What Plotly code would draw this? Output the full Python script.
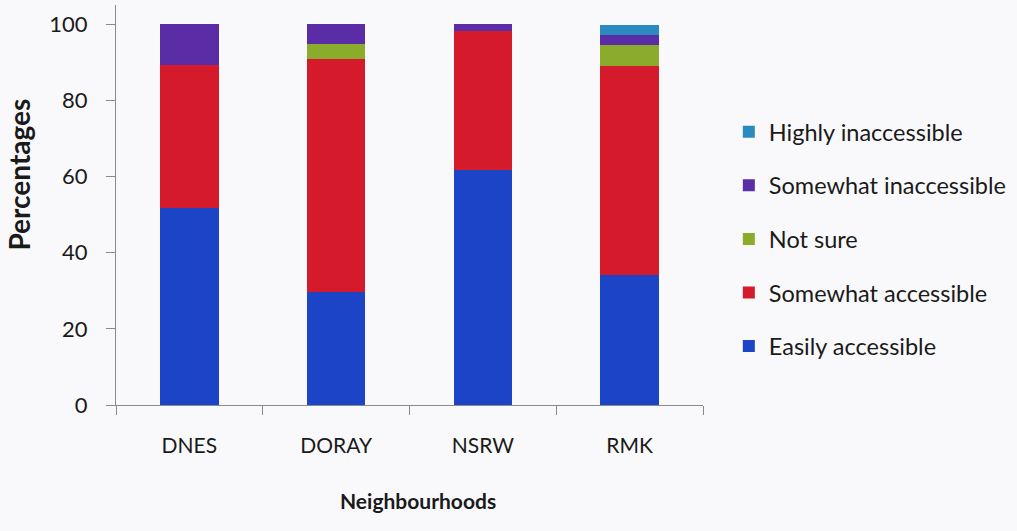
import plotly.graph_objects as go

# Neighbourhoods surveyed
neighbourhoods = ["DNES", "DORAY", "NSRW", "RMK"]

# Share of respondents (%) per accessibility rating
easily_accessible = [51.6, 29.6, 61.7, 34.1]
somewhat_accessible = [37.6, 61.2, 36.5, 54.9]
not_sure = [0.0, 3.9, 0.0, 5.4]
somewhat_inaccessible = [10.8, 5.3, 1.8, 2.7]
highly_inaccessible = [0.0, 0.0, 0.0, 2.6]

y_ticks = [0, 20, 40, 60, 80, 100]

series = [
    ("Easily accessible", easily_accessible, "#1b45c6"),
    ("Somewhat accessible", somewhat_accessible, "#d41a2b"),
    ("Not sure", not_sure, "#8aab2c"),
    ("Somewhat inaccessible", somewhat_inaccessible, "#5a2da6"),
    ("Highly inaccessible", highly_inaccessible, "#2b8ac0"),
]

FONT = "Lato"
AXIS_GREY = "#8a8a8a"
TEXT = "#1a1a1a"

fig = go.Figure()
for i, (name, values, colour) in enumerate(series):
    fig.add_trace(go.Bar(
        x=neighbourhoods,
        y=values,
        name=name,
        legendgroup=f"g{i}",
        # top segment of the stack is listed first in the legend
        legendrank=100 * (len(series) - i),
        marker=dict(color=colour, line=dict(width=0)),
    ))

fig.update_layout(
    width=1017,
    height=531,
    barmode="stack",
    bargap=0.6,
    paper_bgcolor="#f9f9fb",
    plot_bgcolor="#f9f9fb",
    margin=dict(l=116, r=312, t=5, b=126),
    font=dict(family=FONT, size=21, color=TEXT),
    legend=dict(
        x=1.044,
        xanchor="left",
        y=0.7375,
        yanchor="top",
        traceorder="grouped",
        tracegroupgap=20,
        font=dict(family=FONT, size=23.5, color=TEXT),
        bgcolor="rgba(0,0,0,0)",
    ),
    xaxis=dict(
        showline=True,
        linecolor=AXIS_GREY,
        linewidth=1,
        ticks="outside",
        tickson="boundaries",
        ticklen=9,
        tickcolor=AXIS_GREY,
        ticklabelstandoff=22,
        tickfont=dict(family=FONT, size=21, color=TEXT),
        showgrid=False,
    ),
    yaxis=dict(
        range=[0, 105],
        tickvals=y_ticks,
        showline=True,
        linecolor=AXIS_GREY,
        linewidth=1,
        ticks="outside",
        ticklen=9,
        tickcolor=AXIS_GREY,
        ticklabelstandoff=14,
        tickfont=dict(family=FONT, size=22, color=TEXT),
        showgrid=False,
        zeroline=False,
    ),
    annotations=[
        dict(
            text="<b>Percentages</b>",
            xref="paper", yref="paper",
            x=-0.166, y=0.575,
            xanchor="center", yanchor="middle",
            textangle=-90,
            showarrow=False,
            font=dict(family=FONT, size=28, color=TEXT),
        ),
        dict(
            text="<b>Neighbourhoods</b>",
            xref="paper", yref="paper",
            x=0.515, y=-0.275,
            showarrow=False,
            font=dict(family=FONT, size=21, color=TEXT),
        ),
    ],
)

fig.write_html("out.html")
